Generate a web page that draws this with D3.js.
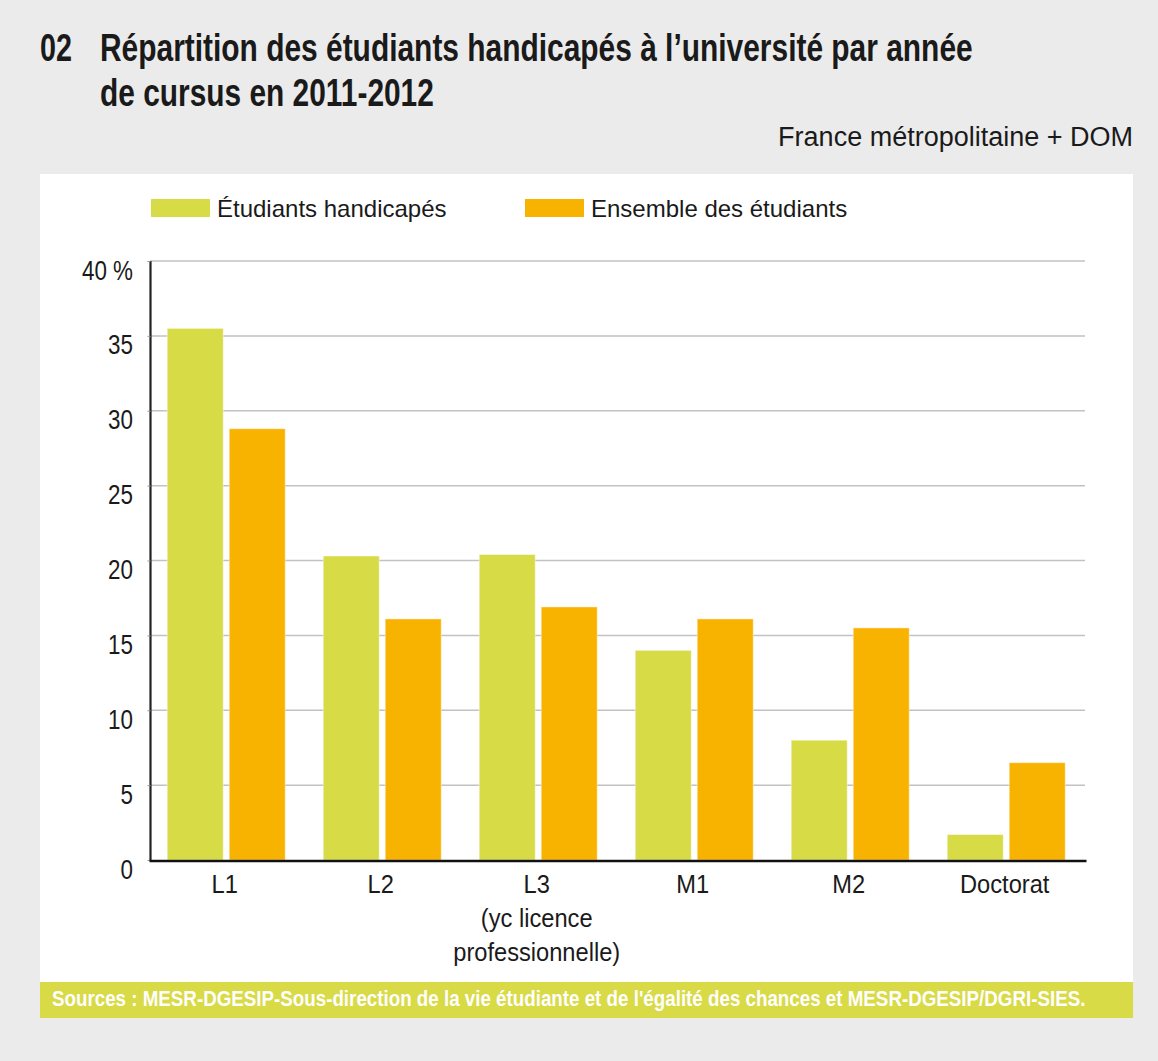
<!DOCTYPE html>
<html>
<head>
<meta charset="utf-8">
<script src="https://cdn.jsdelivr.net/npm/d3@7"></script>
<style>
  body { margin: 0; background: #ebebeb; }
  text { font-family: "Liberation Sans", Arial, Helvetica, sans-serif; fill: #1a1a1a; }
</style>
</head>
<body>
<div id="chart"></div>
<script>
// data
var categories = ["L1", "L2", "L3", "M1", "M2", "Doctorat"];
var xLabelLines = [["L1"], ["L2"], ["L3", "(yc licence", "professionnelle)"], ["M1"], ["M2"], ["Doctorat"]];
var seriesNames = ["Étudiants handicapés", "Ensemble des étudiants"];
var handicapes = [35.5, 20.3, 20.4, 14.0, 8.0, 1.7];
var ensemble = [28.8, 16.1, 16.9, 16.1, 15.5, 6.5];
var yTicks = [0, 5, 10, 15, 20, 25, 30, 35, 40];
var colors = ["#d7db46", "#f8b200"];

var W = 1158, H = 1061;

var svg = d3.select("#chart")
  .append("svg")
  .attr("width", W)
  .attr("height", H);

svg.append("rect").attr("width", W).attr("height", H).attr("fill", "#ebebeb");

// white panel + source band
svg.append("rect").attr("x", 40).attr("y", 174).attr("width", 1093).attr("height", 808).attr("fill", "#fff");
svg.append("rect").attr("x", 40).attr("y", 982).attr("width", 1093).attr("height", 36).attr("fill", "#d8da46");

// condensed look: shrink the font to the wanted width, then stretch it back up
function fitText(x, y, str, width, size, bold) {
  var t = svg.append("text")
    .attr("font-size", size)
    .attr("font-weight", bold ? "bold" : null)
    .text(str);
  var w = t.node().getComputedTextLength();
  var k = width / w;
  t.attr("font-size", size * k)
   .attr("transform", "translate(" + x + "," + y + ") scale(1," + (1 / k) + ")");
  return t;
}

// title
fitText(40, 61, "02", 32, 38, true);
fitText(100, 61, "Répartition des étudiants handicapés à l’université par année", 873, 38, true);
fitText(100, 106, "de cursus en 2011-2012", 334, 38, true);

svg.append("text").attr("x", 1133).attr("y", 146).attr("font-size", 27)
  .attr("text-anchor", "end").text("France métropolitaine + DOM");

// scales
var x0 = d3.scaleBand().domain(categories).range([150.5, 1086.5])
  .paddingInner(0.2436).paddingOuter(0.1218).align(0.44);
var x1 = d3.scaleBand().domain(seriesNames).range([0, x0.bandwidth()]).paddingInner(0.0968);
var y = d3.scaleLinear().domain([0, 40]).range([860, 261]);

// gridlines
svg.append("g").selectAll("line")
  .data(yTicks.filter(function(d) { return d > 0; }))
  .enter().append("line")
  .attr("x1", 150).attr("x2", 1085)
  .attr("y1", function(d) { return y(d); })
  .attr("y2", function(d) { return y(d); })
  .attr("stroke", "#c2c2c2")
  .attr("stroke-width", 1.5);

// bars
var rows = categories.map(function(c, i) { return { cat: c, vals: [handicapes[i], ensemble[i]] }; });
var groups = svg.append("g").selectAll("g")
  .data(rows)
  .enter().append("g")
  .attr("transform", function(d) { return "translate(" + x0(d.cat) + ",0)"; });

groups.selectAll("rect")
  .data(function(d) { return d.vals.map(function(v, j) { return { name: seriesNames[j], v: v, j: j }; }); })
  .enter().append("rect")
  .attr("x", function(d) { return x1(d.name); })
  .attr("y", function(d) { return y(d.v); })
  .attr("width", x1.bandwidth())
  .attr("height", function(d) { return y(0) - y(d.v); })
  .attr("fill", function(d) { return colors[d.j]; })
  .attr("stroke", "rgba(255,255,255,0.45)")
  .attr("stroke-width", 1);

// y axis
var sy = 0.83;
var yAxis = svg.append("g")
  .attr("transform", "translate(150.5,0)")
  .call(d3.axisLeft(y).tickValues(yTicks).tickSize(3)
    .tickFormat(function(d) { return d === 40 ? "40 %" : d; }));
yAxis.select(".domain").attr("stroke", "#222").attr("stroke-width", 2.2)
  .attr("d", "M0," + y(40) + "V" + (y(0) + 1));
yAxis.selectAll(".tick line").attr("stroke", "#999");
yAxis.selectAll(".tick text")
  .attr("font-size", 27)
  .attr("fill", "#1a1a1a")
  .attr("x", -17.5 / sy)
  .attr("dy", 18)
  .attr("transform", "scale(" + sy + ",1)");

// x axis
var sx = 0.91;
var xAxis = svg.append("g")
  .attr("transform", "translate(0,861)")
  .call(d3.axisBottom(x0).tickSize(0).tickFormat(""));
xAxis.select(".domain").attr("stroke", "#111").attr("stroke-width", 2.5)
  .attr("d", "M149.5,0H1086.5");
xAxis.selectAll(".tick text").remove();
xAxis.selectAll(".tick").each(function(c, i) {
  var t = d3.select(this).append("text")
    .attr("text-anchor", "middle")
    .attr("font-size", 26)
    .attr("fill", "#1a1a1a")
    .attr("transform", "scale(" + sx + ",1)");
  xLabelLines[i].forEach(function(line, k) {
    t.append("tspan").attr("x", -1.5 / sx).attr("y", 32 + k * 34).text(line);
  });
});

// legend
var legendX = [151, 525];
seriesNames.forEach(function(name, i) {
  svg.append("rect").attr("x", legendX[i]).attr("y", 199).attr("width", 59).attr("height", 18)
    .attr("fill", colors[i]);
  svg.append("text").attr("x", legendX[i] + 66).attr("y", 217).attr("font-size", 24).text(name);
});

// source
fitText(52, 1006, "Sources : MESR-DGESIP-Sous-direction de la vie étudiante et de l'égalité des chances et MESR-DGESIP/DGRI-SIES.", 1034, 22, true)
  .style("fill", "#fff");
</script>
</body>
</html>
